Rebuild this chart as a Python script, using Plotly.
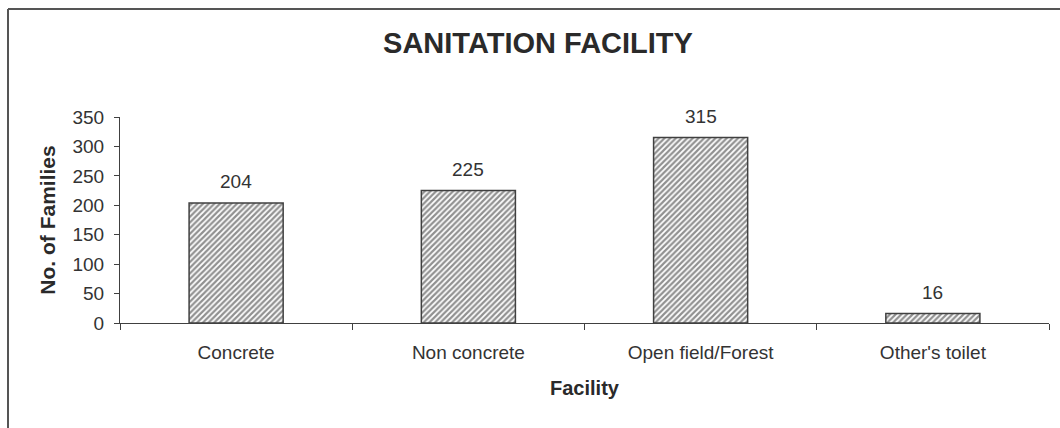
import plotly.graph_objects as go

# Data
facilities = ["Concrete", "Non concrete", "Open field/Forest", "Other's toilet"]
families = [204, 225, 315, 16]
y_ticks = [0, 50, 100, 150, 200, 250, 300, 350]

W, H = 1060, 428
M_L, M_R, M_T, M_B = 120, 11, 117, 105

TEXT = "#333333"
LINE = "#404040"
FONT = "Liberation Sans, Arial, sans-serif"


def px_to_paper_x(px):
    return (px - M_L) / (W - M_L - M_R)


def px_to_paper_y(py):
    return (H - M_B - py) / (H - M_T - M_B)


fig = go.Figure()

fig.add_trace(
    go.Bar(
        x=facilities,
        y=families,
        marker=dict(
            color="white",
            line=dict(color=LINE, width=1.5),
            pattern=dict(shape="/", size=4, solidity=0.55, fgcolor="#222222", bgcolor="white"),
        ),
        hovertemplate="%{x}: %{y}<extra></extra>",
    )
)

# value labels above each bar
for cat, val in zip(facilities, families):
    fig.add_annotation(
        x=cat, y=val, text=str(val), showarrow=False, yshift=21,
        font=dict(size=19, color=TEXT, family=FONT),
    )

# outer chart border (only top and left edges visible in the reference)
fig.add_shape(
    type="line", xref="paper", yref="paper",
    x0=px_to_paper_x(8), x1=px_to_paper_x(W + 5),
    y0=px_to_paper_y(9), y1=px_to_paper_y(9),
    line=dict(color="#555555", width=2),
)
fig.add_shape(
    type="line", xref="paper", yref="paper",
    x0=px_to_paper_x(8), x1=px_to_paper_x(8),
    y0=px_to_paper_y(9), y1=px_to_paper_y(H + 5),
    line=dict(color="#555555", width=2),
)

fig.update_layout(
    width=W,
    height=H,
    margin=dict(l=M_L, r=M_R, t=M_T, b=M_B),
    paper_bgcolor="white",
    plot_bgcolor="white",
    font=dict(family=FONT, color=TEXT, size=19),
    title=dict(
        text="<b>SANITATION FACILITY</b>",
        x=538 / W, xanchor="center", xref="container",
        y=1 - 43 / H, yanchor="middle", yref="container",
        font=dict(size=29, color="#2a2a2a", family=FONT),
    ),
    bargap=0.595,
    showlegend=False,
    xaxis=dict(
        title=dict(text="<b>Facility</b>", font=dict(size=20, color="#2a2a2a"), standoff=19),
        showline=True, linecolor=LINE, linewidth=1,
        ticks="outside", tickson="boundaries", ticklen=6, tickcolor=LINE,
        ticklabelstandoff=12,
        showgrid=False, zeroline=False,
        tickfont=dict(size=19, color=TEXT),
    ),
    yaxis=dict(
        title=dict(text="<b>No. of Families</b>", font=dict(size=21, color="#2a2a2a"), standoff=11),
        range=[0, 350],
        tickvals=y_ticks,
        showline=True, linecolor=LINE, linewidth=1,
        ticks="outside", ticklen=5, tickcolor=LINE,
        ticklabelstandoff=6,
        showgrid=False, zeroline=False,
        tickfont=dict(size=19, color=TEXT),
    ),
)

fig.write_html(
    "out.html",
    config={"displayModeBar": False},
    post_script="document.body.style.margin = '0';",
)
